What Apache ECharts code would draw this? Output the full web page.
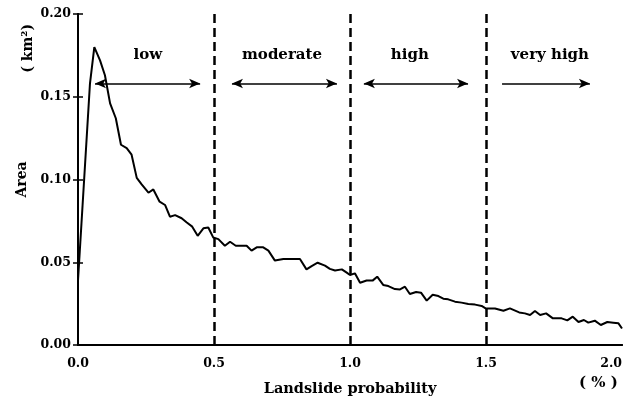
<!DOCTYPE html>
<html>
<head>
<meta charset="utf-8">
<script src="https://cdn.jsdelivr.net/npm/echarts@6/dist/echarts.min.js"></script>
<style>
  html, body { margin: 0; padding: 0; background: #fff; }
  #main { width: 629px; height: 398px; }
</style>
</head>
<body>
<div id="main"></div>
<script>
// landslide probability (%)
var probX = [0, 0.044, 0.06, 0.081, 0.099, 0.118, 0.139, 0.158, 0.179, 0.197,
  0.216, 0.234, 0.259, 0.277, 0.30, 0.32, 0.338, 0.357, 0.381, 0.40,
  0.42, 0.44, 0.461, 0.479, 0.497, 0.516, 0.54, 0.559, 0.58, 0.62,
  0.638, 0.657, 0.681, 0.70, 0.724, 0.755, 0.79, 0.816, 0.84, 0.859,
  0.881, 0.908, 0.926, 0.945, 0.97, 0.988, 1.0, 1.018, 1.037, 1.061,
  1.083, 1.10, 1.122, 1.141, 1.165, 1.184, 1.202, 1.22, 1.243, 1.261,
  1.282, 1.304, 1.325, 1.343, 1.361, 1.386, 1.41, 1.435, 1.46, 1.484,
  1.5, 1.533, 1.564, 1.588, 1.622, 1.643, 1.662, 1.68, 1.699, 1.721,
  1.746, 1.778, 1.799, 1.819, 1.84, 1.86, 1.876, 1.90, 1.922, 1.946,
  1.968, 1.987, 2.0];
// area (km2)
var area = [0.039, 0.158, 0.180, 0.172, 0.163, 0.146, 0.137, 0.121, 0.119, 0.115,
  0.101, 0.097, 0.092, 0.094, 0.0866, 0.0846, 0.0775, 0.0785, 0.0766, 0.074,
  0.0715, 0.066, 0.0705, 0.071, 0.065, 0.064, 0.060, 0.0624, 0.060, 0.060,
  0.057, 0.059, 0.059, 0.057, 0.051, 0.052, 0.052, 0.052, 0.0457, 0.0477,
  0.0497, 0.048, 0.046, 0.045, 0.0457, 0.0437, 0.0423, 0.0433, 0.0376, 0.039,
  0.0389, 0.0413, 0.0363, 0.0356, 0.0338, 0.0336, 0.0352, 0.0308, 0.032, 0.0316,
  0.0268, 0.0304, 0.0296, 0.028, 0.0276, 0.0262, 0.0256, 0.0248, 0.0244, 0.0236,
  0.022, 0.0221, 0.0207, 0.0221, 0.0197, 0.0191, 0.0181, 0.0205, 0.0181, 0.0191,
  0.0161, 0.0161, 0.0149, 0.0171, 0.0139, 0.0151, 0.0135, 0.0147, 0.0121, 0.0139,
  0.0135, 0.0131, 0.010];

var boundaries = [0.5, 1.0, 1.5];
var classNames = ['low', 'moderate', 'high', 'very high'];
var classLabelX = [0.257, 0.75, 1.22, 1.735];
var classLabelY = 0.175;
var arrowStart = [0.0625, 0.566, 1.051, 1.559];
var arrowEnd = [0.449, 0.952, 1.434, 1.882];
var arrowBoth = [true, true, true, false];
var arrowY = 0.158;

var font = 'DejaVu Serif';

var curve = probX.map(function (x, i) { return [x, area[i]]; });

var arrows = arrowStart.map(function (x0, i) {
  return [
    { coord: [x0, arrowY], symbol: arrowBoth[i] ? 'arrow' : 'none' },
    { coord: [arrowEnd[i], arrowY], symbol: 'arrow' }
  ];
});

var labels = classNames.map(function (n, i) {
  return { value: [classLabelX[i], classLabelY], name: n };
});

var myChart = echarts.init(document.getElementById('main'));

var option = {
  animation: false,
  backgroundColor: '#fff',
  grid: { left: 78, right: 7, top: 14, bottom: 53, outerBoundsMode: 'none', containLabel: false },
  xAxis: [{
    type: 'value', min: 0, max: 2, interval: 0.5,
    name: 'Landslide probability', nameLocation: 'middle', nameGap: 37,
    nameTextStyle: { fontFamily: font, fontWeight: 'bold', fontSize: 14.5, color: '#000' },
    axisLine: { lineStyle: { color: '#000', width: 2 } },
    axisTick: { show: false },
    splitLine: { show: false },
    axisLabel: {
      fontFamily: font, fontWeight: 'bold', fontSize: 12.5, color: '#000', margin: 12,
      alignMaxLabel: 'right',
      formatter: function (v) { return v.toFixed(1); }
    }
  }, {
    type: 'value', min: 0, max: 2, position: 'top',
    axisLine: { show: true, lineStyle: { color: '#000', width: 2 } },
    axisTick: { show: false }, axisLabel: { show: false }, splitLine: { show: false }
  }],
  yAxis: [{
    type: 'value', min: 0, max: 0.2, interval: 0.05,
    name: 'Area', nameLocation: 'middle', nameGap: 38,
    nameTextStyle: { fontFamily: font, fontWeight: 'bold', fontSize: 14, color: '#000' },
    axisLine: { show: true, lineStyle: { color: '#000', width: 2 } },
    axisTick: { show: true, inside: true, length: 5, lineStyle: { color: '#000', width: 1.5 } },
    splitLine: { show: false },
    axisLabel: {
      fontFamily: font, fontWeight: 'bold', fontSize: 12.5, color: '#000', margin: 7,
      formatter: function (v) { return v.toFixed(2); }
    }
  }, {
    type: 'value', min: 0, max: 0.2, interval: 0.05, position: 'right',
    axisLine: { show: true, lineStyle: { color: '#000', width: 2 } },
    axisTick: { show: true, inside: true, length: 5, lineStyle: { color: '#000', width: 1.5 } },
    axisLabel: { show: false }, splitLine: { show: false }
  }],
  graphic: [{
    type: 'text', left: 21, top: 24, rotation: Math.PI / 2,
    style: { text: '( km²)', font: 'bold 14px "DejaVu Serif"', fill: '#000' }
  }, {
    type: 'text', left: 579, top: 376,
    style: { text: '( % )', font: 'bold 15px "DejaVu Serif"', fill: '#000' }
  }],
  series: [{
    type: 'line',
    data: curve,
    showSymbol: false,
    lineStyle: { color: '#000', width: 2 },
    markLine: {
      silent: true,
      symbol: 'none',
      label: { show: false },
      lineStyle: { color: '#000', width: 2.5, type: [9, 5] },
      data: boundaries.map(function (b) { return { xAxis: b }; })
    }
  }, {
    type: 'line',
    data: [],
    markLine: {
      silent: true,
      symbolSize: [7, 11],
      label: { show: false },
      lineStyle: { color: '#000', width: 1.5, type: 'solid' },
      data: arrows
    }
  }, {
    type: 'scatter',
    data: labels,
    symbolSize: 0,
    itemStyle: { opacity: 1, color: '#000' },
    label: {
      show: true, position: 'inside', opacity: 1,
      fontFamily: font, fontWeight: 'bold', fontSize: 15, color: '#000',
      formatter: function (p) { return p.name; }
    }
  }]
};

myChart.setOption(option);
</script>
</body>
</html>
